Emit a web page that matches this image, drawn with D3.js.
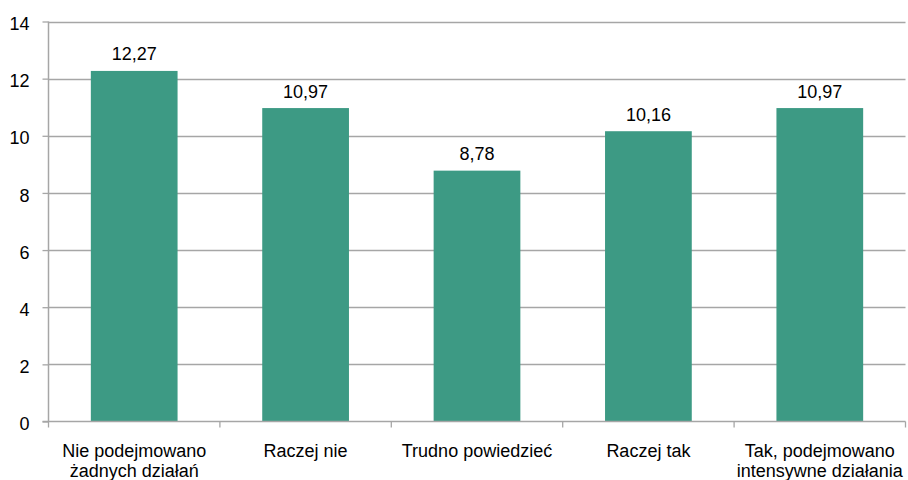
<!DOCTYPE html>
<html>
<head>
<meta charset="utf-8">
<script src="https://cdn.jsdelivr.net/npm/d3@7"></script>
<style>
  html, body { margin: 0; padding: 0; background: #fff; }
  svg { display: block; }
  text { font-family: "Liberation Sans", Arial, sans-serif; fill: #000; }
</style>
</head>
<body>
<svg id="chart" width="908" height="480"></svg>
<script>
// Answer categories (two-line labels split with "\n")
const categories = [
  "Nie podejmowano\nżadnych działań",
  "Raczej nie",
  "Trudno powiedzieć",
  "Raczej tak",
  "Tak, podejmowano\nintensywne działania"
];
const values = [12.27, 10.97, 8.78, 10.16, 10.97];
const valueLabels = ["12,27", "10,97", "8,78", "10,16", "10,97"];
const yTicks = [0, 2, 4, 6, 8, 10, 12, 14];

const svg = d3.select("#chart");
const plotLeft = 48.5, plotRight = 905.5, plotTop = 21.5, plotBottom = 421.5;
const fontSize = 18;

const x = d3.scaleBand().domain(categories).range([plotLeft, plotRight])
  .paddingInner(0.494).paddingOuter(0.247);
const y = d3.scaleLinear().domain([0, 14]).range([plotBottom, plotTop]);

// horizontal gridlines
svg.append("g").selectAll("line").data(yTicks.filter(d => d > 0)).join("line")
  .attr("x1", plotLeft).attr("x2", plotRight)
  .attr("y1", d => Math.round(y(d)) + 0.5).attr("y2", d => Math.round(y(d)) + 0.5)
  .attr("stroke", "#a6a6a6").attr("stroke-width", 1.3);

// bars
svg.append("g").selectAll("rect").data(values).join("rect")
  .attr("x", (d, i) => x(categories[i]))
  .attr("width", x.bandwidth())
  .attr("y", d => y(d))
  .attr("height", d => y(0) - y(d))
  .attr("fill", "#3d9a84");

// value labels
svg.append("g").selectAll("text").data(values).join("text")
  .attr("x", (d, i) => x(categories[i]) + x.bandwidth() / 2)
  .attr("y", d => y(d) - 10.5)
  .attr("text-anchor", "middle")
  .attr("font-size", fontSize)
  .text((d, i) => valueLabels[i]);

// y axis
const yAxis = svg.append("g").attr("transform", `translate(${plotLeft},0)`)
  .call(d3.axisLeft(y).tickValues(yTicks).tickSize(6).tickPadding(13)
    .tickFormat(d3.format("d")));
yAxis.select(".domain").attr("stroke", "#a6a6a6").attr("stroke-width", 1.5)
  .attr("d", `M0,${plotTop}V${plotBottom}`);
yAxis.selectAll(".tick line").attr("stroke", "#a6a6a6").attr("stroke-width", 1.3);
yAxis.selectAll(".tick text").attr("font-size", fontSize).attr("fill", "#000")
  .attr("dy", "0.45em")
  .attr("font-family", "Liberation Sans, Arial, sans-serif");

// x axis baseline and category separators
const bounds = d3.range(categories.length + 1)
  .map(i => plotLeft + i * (plotRight - plotLeft) / categories.length);
const xg = svg.append("g");
xg.append("line").attr("x1", plotLeft - 6).attr("x2", plotRight)
  .attr("y1", plotBottom).attr("y2", plotBottom)
  .attr("stroke", "#a6a6a6").attr("stroke-width", 1.5);
xg.selectAll("line.sep").data(bounds).join("line").attr("class", "sep")
  .attr("x1", d => d).attr("x2", d => d)
  .attr("y1", plotBottom).attr("y2", plotBottom + 6)
  .attr("stroke", "#a6a6a6").attr("stroke-width", 1.3);

// category labels
const labels = xg.selectAll("text").data(categories).join("text")
  .attr("text-anchor", "middle")
  .attr("font-size", fontSize)
  .attr("x", d => x(d) + x.bandwidth() / 2)
  .attr("y", 457);
labels.each(function(d) {
  const t = d3.select(this);
  d.split("\n").forEach((line, i) => {
    t.append("tspan").attr("x", x(d) + x.bandwidth() / 2)
      .attr("dy", i === 0 ? 0 : 20).text(line);
  });
});
</script>
</body>
</html>
